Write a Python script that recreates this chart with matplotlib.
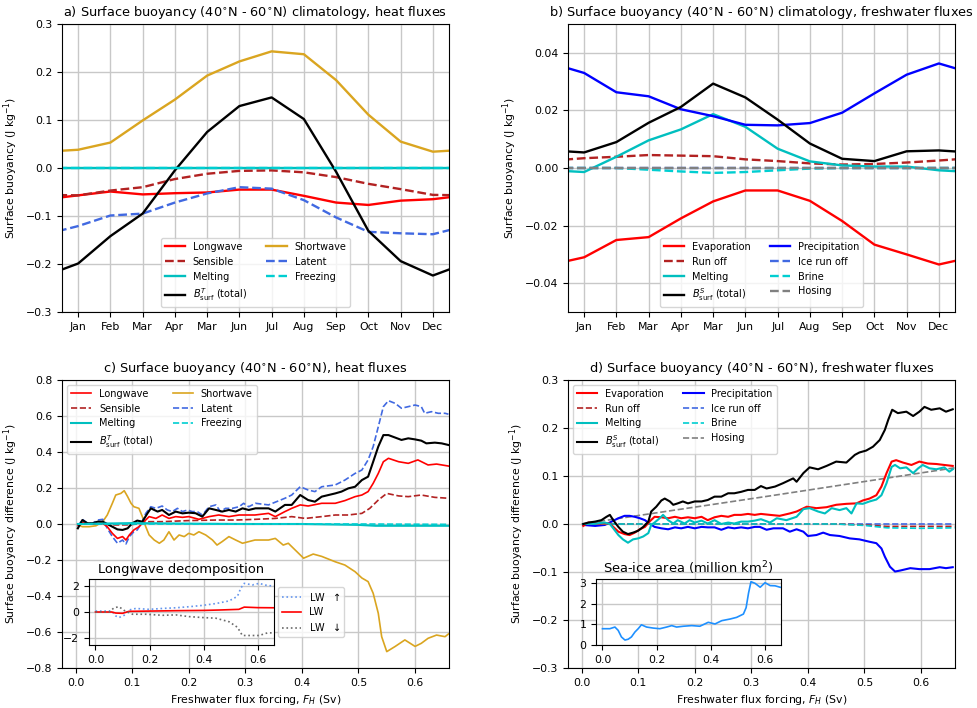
import numpy as np
import matplotlib
matplotlib.use("Agg")
import matplotlib.pyplot as plt

plt.rcParams['font.family'] = ['DejaVu Sans']
plt.rcParams['font.size'] = 7.8
plt.rcParams['axes.unicode_minus'] = True

# ---------------- Panel a/b: monthly climatology (Jan..Dec) ----------------
months = ['Jan', 'Feb', 'Mar', 'Apr', 'Mar', 'Jun', 'Jul', 'Aug', 'Sep', 'Oct', 'Nov', 'Dec']

lw_a = [-0.057, -0.049, -0.055, -0.0525, -0.051, -0.045, -0.045, -0.058, -0.072, -0.077, -0.068, -0.065]
sens_a = [-0.057, -0.047, -0.040, -0.023, -0.012, -0.006, -0.005, -0.009, -0.019, -0.033, -0.044, -0.056]
melt_a = [-0.0005] * 12
sw_a = [0.038, 0.053, 0.099, 0.1425, 0.1925, 0.222, 0.243, 0.237, 0.183, 0.111, 0.055, 0.034]
lat_a = [-0.121, -0.099, -0.095, -0.072, -0.053, -0.040, -0.043, -0.067, -0.103, -0.133, -0.136, -0.138]
frz_a = [0.0] * 12
tot_a = [-0.199, -0.142, -0.095, -0.005, 0.075, 0.129, 0.147, 0.102, -0.008, -0.131, -0.194, -0.224]

evap_b = [-0.031, -0.025, -0.024, -0.0175, -0.0116, -0.0078, -0.0078, -0.0114, -0.0184, -0.0266, -0.0300, -0.0335]
runoff_b = [0.0034, 0.0039, 0.0045, 0.0043, 0.0041, 0.0030, 0.0024, 0.0016, 0.0012, 0.0014, 0.0019, 0.0026]
melt_b = [-0.0014, 0.0039, 0.0096, 0.0134, 0.0187, 0.0143, 0.0067, 0.0023, 0.0009, 0.0005, 0.0005, -0.0008]
tot_b = [0.0054, 0.0090, 0.0157, 0.0212, 0.0293, 0.0245, 0.0168, 0.0085, 0.0032, 0.0024, 0.0058, 0.0061]
prec_b = [0.0330, 0.0263, 0.0249, 0.0204, 0.0180, 0.0150, 0.0148, 0.0156, 0.0192, 0.0259, 0.0324, 0.0363]
icerun_b = [0.0] * 12
brine_b = [0.0, 0.0, -0.0006, -0.0012, -0.0017, -0.0014, -0.0008, -0.0002, 0.0, 0.0, 0.0, 0.0]
hosing_b = [0.0] * 12

# ---------------- Panel c: heat fluxes vs forcing (Sv, value) ----------------
lw_c = np.array([(0.004,-0.005),(0.012,0.007),(0.03,0.0),(0.048,0.004),(0.056,-0.015),(0.065,-0.052),(0.074,-0.08),(0.083,-0.07),(0.089,-0.089),(0.095,-0.061),(0.103,-0.033),(0.112,-0.015),(0.121,0.013),(0.13,0.041),(0.142,0.031),(0.153,0.05),(0.165,0.031),(0.177,0.041),(0.189,0.037),(0.2,0.041),(0.218,0.026),(0.236,0.041),(0.253,0.05),(0.271,0.041),(0.289,0.05),(0.306,0.05),(0.317,0.05),(0.341,0.059),(0.353,0.041),(0.37,0.069),(0.382,0.087),(0.397,0.106),(0.411,0.1),(0.435,0.115),(0.459,0.115),(0.476,0.13),(0.494,0.152),(0.506,0.161),(0.517,0.18),(0.526,0.226),(0.535,0.281),(0.544,0.346),(0.553,0.365),(0.571,0.346),(0.588,0.337),(0.605,0.356),(0.623,0.328),(0.638,0.333),(0.659,0.322)])
sens_c = np.array([(0.004,0.0),(0.05,0.0),(0.07,-0.005),(0.09,-0.005),(0.11,0.0),(0.124,0.013),(0.153,0.013),(0.2,0.019),(0.248,0.022),(0.283,0.022),(0.318,0.026),(0.353,0.031),(0.382,0.041),(0.406,0.031),(0.435,0.041),(0.459,0.05),(0.482,0.05),(0.506,0.059),(0.52,0.087),(0.535,0.133),(0.55,0.17),(0.571,0.156),(0.588,0.152),(0.611,0.161),(0.635,0.148),(0.659,0.143)])
melt_c = np.array([(0.004,0.0),(0.1,0.005),(0.2,0.002),(0.3,0.0),(0.4,0.0),(0.5,-0.005),(0.53,-0.01),(0.659,-0.01)])
sw_c = np.array([(0.004,-0.005),(0.012,-0.015),(0.024,-0.015),(0.036,-0.01),(0.048,0.013),(0.056,0.05),(0.065,0.115),(0.071,0.161),(0.08,0.17),(0.086,0.185),(0.092,0.152),(0.098,0.115),(0.103,0.096),(0.112,0.087),(0.118,0.041),(0.124,-0.015),(0.13,-0.061),(0.139,-0.089),(0.148,-0.107),(0.156,-0.089),(0.165,-0.043),(0.174,-0.089),(0.183,-0.061),(0.192,-0.07),(0.2,-0.052),(0.209,-0.061),(0.218,-0.043),(0.23,-0.061),(0.242,-0.089),(0.25,-0.117),(0.259,-0.098),(0.271,-0.07),(0.283,-0.089),(0.295,-0.107),(0.306,-0.098),(0.317,-0.089),(0.341,-0.089),(0.353,-0.08),(0.367,-0.117),(0.376,-0.107),(0.388,-0.144),(0.403,-0.19),(0.42,-0.167),(0.435,-0.18),(0.459,-0.21),(0.476,-0.228),(0.494,-0.265),(0.506,-0.30),(0.517,-0.32),(0.526,-0.385),(0.535,-0.496),(0.541,-0.626),(0.55,-0.709),(0.565,-0.68),(0.582,-0.644),(0.6,-0.68),(0.611,-0.663),(0.623,-0.635),(0.638,-0.617),(0.653,-0.626),(0.659,-0.611)])
lat_c = np.array([(0.004,-0.015),(0.012,0.026),(0.021,0.004),(0.03,0.004),(0.039,0.022),(0.048,0.026),(0.056,-0.024),(0.065,-0.07),(0.074,-0.107),(0.083,-0.089),(0.089,-0.111),(0.095,-0.07),(0.103,-0.043),(0.109,-0.033),(0.118,0.013),(0.124,0.059),(0.133,0.096),(0.142,0.087),(0.153,0.1),(0.162,0.078),(0.171,0.069),(0.18,0.087),(0.189,0.069),(0.198,0.078),(0.206,0.069),(0.215,0.069),(0.224,0.05),(0.236,0.096),(0.248,0.106),(0.256,0.069),(0.265,0.087),(0.277,0.087),(0.289,0.096),(0.297,0.115),(0.306,0.096),(0.318,0.115),(0.341,0.106),(0.37,0.143),(0.382,0.161),(0.397,0.207),(0.411,0.189),(0.423,0.18),(0.435,0.207),(0.459,0.217),(0.476,0.244),(0.494,0.281),(0.506,0.3),(0.517,0.356),(0.526,0.43),(0.535,0.54),(0.544,0.652),(0.553,0.685),(0.565,0.67),(0.576,0.643),(0.588,0.652),(0.6,0.661),(0.611,0.652),(0.617,0.615),(0.629,0.624),(0.641,0.615),(0.653,0.615),(0.659,0.61)])
frz_c = np.array([(0.004,0.0),(0.3,0.0),(0.5,0.0),(0.659,-0.002)])
tot_c = np.array([(0.004,-0.024),(0.012,0.022),(0.021,0.004),(0.03,0.004),(0.039,0.013),(0.048,0.013),(0.056,0.0),(0.065,-0.015),(0.074,-0.03),(0.083,-0.033),(0.092,-0.024),(0.1,0.004),(0.109,0.019),(0.118,0.013),(0.127,0.059),(0.133,0.087),(0.145,0.069),(0.153,0.078),(0.165,0.05),(0.177,0.069),(0.189,0.059),(0.2,0.063),(0.212,0.06),(0.224,0.041),(0.236,0.087),(0.248,0.078),(0.259,0.069),(0.271,0.078),(0.283,0.069),(0.295,0.087),(0.306,0.078),(0.318,0.087),(0.341,0.087),(0.353,0.069),(0.37,0.106),(0.382,0.106),(0.397,0.161),(0.411,0.133),(0.423,0.124),(0.435,0.152),(0.447,0.161),(0.459,0.17),(0.47,0.18),(0.482,0.198),(0.494,0.207),(0.506,0.244),(0.517,0.263),(0.526,0.346),(0.535,0.43),(0.544,0.494),(0.553,0.494),(0.565,0.48),(0.576,0.467),(0.588,0.476),(0.6,0.47),(0.611,0.463),(0.62,0.448),(0.635,0.452),(0.647,0.448),(0.659,0.439)])

# Longwave decomposition inset
lw_up = np.array([(0.0,0.07),(0.06,0.07),(0.075,-0.3),(0.087,-0.42),(0.106,-0.25),(0.124,0.15),(0.149,0.27),(0.198,0.2),(0.248,0.27),(0.297,0.32),(0.346,0.4),(0.396,0.5),(0.445,0.64),(0.494,0.84),(0.525,1.19),(0.537,1.8),(0.55,2.17),(0.58,2.05),(0.605,2.17),(0.636,2.0),(0.66,1.98)])
lw_net = np.array([(0.0,0.0),(0.06,0.0),(0.075,-0.08),(0.1,-0.1),(0.124,0.05),(0.2,0.07),(0.3,0.1),(0.4,0.12),(0.457,0.15),(0.53,0.2),(0.55,0.37),(0.6,0.33),(0.66,0.32)])
lw_dn = np.array([(0.0,0.0),(0.05,0.0),(0.069,0.32),(0.087,0.4),(0.106,0.12),(0.137,-0.17),(0.186,-0.17),(0.248,-0.25),(0.297,-0.22),(0.346,-0.35),(0.396,-0.42),(0.445,-0.47),(0.494,-0.74),(0.525,-1.16),(0.543,-1.78),(0.568,-1.78),(0.605,-1.78),(0.636,-1.58),(0.66,-1.58)])

# ---------------- Panel d: freshwater fluxes vs forcing ----------------
evap_d = np.array([(0.003,-0.004),(0.012,0.003),(0.03,0.001),(0.05,0.001),(0.056,-0.006),(0.065,-0.016),(0.076,-0.021),(0.085,-0.023),(0.094,-0.018),(0.103,-0.011),(0.112,-0.006),(0.12,0.005),(0.129,0.015),(0.141,0.014),(0.153,0.012),(0.165,0.015),(0.176,0.012),(0.188,0.014),(0.2,0.012),(0.212,0.015),(0.223,0.008),(0.235,0.014),(0.247,0.017),(0.259,0.015),(0.27,0.019),(0.282,0.019),(0.294,0.021),(0.306,0.019),(0.317,0.021),(0.333,0.019),(0.35,0.017),(0.368,0.022),(0.38,0.026),(0.398,0.036),(0.415,0.033),(0.433,0.035),(0.45,0.04),(0.468,0.042),(0.486,0.043),(0.497,0.049),(0.509,0.053),(0.521,0.06),(0.53,0.078),(0.539,0.106),(0.548,0.13),(0.556,0.133),(0.568,0.128),(0.583,0.123),(0.597,0.13),(0.612,0.126),(0.627,0.125),(0.641,0.123),(0.656,0.121)])
runoff_d = np.array([(0.003,0.0),(0.45,0.0),(0.5,-0.002),(0.54,-0.005),(0.659,-0.005)])
melt_d = np.array([(0.003,0.0),(0.024,0.001),(0.041,0.003),(0.05,0.0),(0.056,-0.009),(0.065,-0.023),(0.073,-0.032),(0.082,-0.039),(0.091,-0.032),(0.1,-0.03),(0.109,-0.026),(0.118,-0.019),(0.123,-0.002),(0.129,0.003),(0.138,0.012),(0.144,0.019),(0.153,0.008),(0.162,0.001),(0.17,0.008),(0.182,0.001),(0.191,0.008),(0.2,0.003),(0.212,0.007),(0.223,0.001),(0.235,0.008),(0.247,0.0),(0.259,0.003),(0.27,0.001),(0.282,0.005),(0.294,0.005),(0.306,0.007),(0.317,0.01),(0.333,0.003),(0.345,0.012),(0.362,0.008),(0.38,0.015),(0.392,0.031),(0.403,0.033),(0.418,0.026),(0.43,0.022),(0.442,0.033),(0.456,0.029),(0.468,0.033),(0.477,0.022),(0.486,0.043),(0.497,0.042),(0.509,0.047),(0.521,0.051),(0.53,0.06),(0.539,0.085),(0.548,0.119),(0.554,0.123),(0.563,0.116),(0.574,0.118),(0.586,0.106),(0.595,0.116),(0.603,0.123),(0.615,0.116),(0.627,0.114),(0.641,0.118),(0.65,0.109),(0.656,0.114)])
tot_d = np.array([(0.003,0.0),(0.012,0.003),(0.024,0.005),(0.035,0.008),(0.044,0.015),(0.05,0.019),(0.056,0.008),(0.065,-0.006),(0.073,-0.016),(0.082,-0.021),(0.091,-0.018),(0.1,-0.014),(0.109,-0.006),(0.118,0.005),(0.123,0.026),(0.132,0.036),(0.141,0.049),(0.147,0.053),(0.156,0.047),(0.162,0.04),(0.17,0.043),(0.179,0.047),(0.188,0.043),(0.2,0.047),(0.212,0.047),(0.223,0.05),(0.235,0.057),(0.247,0.057),(0.259,0.064),(0.27,0.064),(0.282,0.067),(0.294,0.071),(0.306,0.071),(0.317,0.079),(0.327,0.074),(0.342,0.078),(0.356,0.085),(0.374,0.095),(0.38,0.088),(0.392,0.106),(0.403,0.118),(0.418,0.114),(0.433,0.121),(0.45,0.13),(0.468,0.128),(0.483,0.144),(0.491,0.149),(0.503,0.153),(0.515,0.161),(0.527,0.175),(0.536,0.196),(0.542,0.217),(0.549,0.238),(0.559,0.231),(0.574,0.234),(0.586,0.225),(0.597,0.234),(0.606,0.244),(0.618,0.238),(0.633,0.241),(0.644,0.234),(0.656,0.239)])
prec_d = np.array([(0.003,-0.002),(0.024,-0.004),(0.041,-0.002),(0.053,0.005),(0.065,0.012),(0.076,0.017),(0.085,0.017),(0.094,0.015),(0.103,0.012),(0.112,0.008),(0.12,0.001),(0.129,-0.006),(0.141,-0.009),(0.153,-0.011),(0.165,-0.007),(0.176,-0.009),(0.188,-0.006),(0.2,-0.009),(0.212,-0.006),(0.223,-0.007),(0.235,-0.007),(0.247,-0.012),(0.259,-0.007),(0.27,-0.009),(0.282,-0.007),(0.294,-0.009),(0.306,-0.006),(0.315,-0.006),(0.327,-0.012),(0.339,-0.009),(0.356,-0.009),(0.368,-0.016),(0.38,-0.011),(0.392,-0.016),(0.4,-0.025),(0.415,-0.023),(0.427,-0.018),(0.439,-0.023),(0.456,-0.025),(0.474,-0.03),(0.491,-0.032),(0.509,-0.037),(0.521,-0.04),(0.53,-0.051),(0.536,-0.068),(0.545,-0.089),(0.554,-0.099),(0.563,-0.097),(0.581,-0.092),(0.597,-0.094),(0.615,-0.094),(0.633,-0.09),(0.644,-0.092),(0.656,-0.09)])
icerun_d = np.array([(0.003,0.0),(0.659,0.0)])
brine_d = np.array([(0.003,0.0),(0.45,0.0),(0.5,-0.003),(0.54,-0.008),(0.6,-0.009),(0.659,-0.008)])
hosing_d = np.array([(0.0,0.0),(0.33,0.058),(0.659,0.117)])

# Sea-ice area inset
seaice = np.array([(0.0,0.79),(0.027,0.79),(0.046,0.87),(0.058,0.71),(0.07,0.39),(0.083,0.24),(0.095,0.28),(0.107,0.39),(0.12,0.63),(0.132,0.79),(0.144,0.98),(0.163,0.87),(0.188,0.82),(0.212,0.79),(0.237,0.87),(0.256,0.94),(0.274,0.87),(0.299,0.91),(0.33,0.94),(0.36,0.91),(0.391,1.1),(0.416,1.02),(0.441,1.18),(0.472,1.26),(0.496,1.34),(0.521,1.5),(0.531,1.81),(0.54,2.52),(0.549,3.07),(0.564,2.99),(0.583,2.8),(0.601,3.02),(0.62,2.88),(0.638,2.87),(0.657,2.8)])

# ---------------- Figure ----------------
W, H = 977, 708
fig = plt.figure(figsize=(W / 100, H / 100), dpi=100)

def px_axes(l, t, r, b):
    return fig.add_axes([l / W, 1 - b / H, (r - l) / W, (b - t) / H])

axa = px_axes(62, 24, 449, 312)
axb = px_axes(568, 24, 955, 312)
axc = px_axes(62, 380, 449, 668)
axd = px_axes(568, 380, 955, 668)

GRID = dict(color='#c8c8c8', linewidth=1.0)
LWM = 1.7
TFS = 9.3
LFS = 7.0
LEG = dict(ncol=2, fontsize=LFS, handlelength=2.1, columnspacing=2.0)

def wrap(v):
    # periodic extension: Dec, Jan..Dec, Jan
    return [v[-1]] + list(v) + [v[0]]

xm = np.arange(0, 14)

def month_axis(ax):
    ax.set_xlim(0.5, 12.5)
    ax.set_xticks(np.arange(1, 13))
    ax.set_xticklabels(months)
    ax.grid(True, **GRID)
    ax.set_axisbelow(True)

# Panel a
h = {}
h['lw'], = axa.plot(xm, wrap(lw_a), color='red', lw=LWM)
h['sens'], = axa.plot(xm, wrap(sens_a), color='firebrick', lw=LWM, ls='--')
h['melt'], = axa.plot(xm, wrap(melt_a), color='c', lw=LWM)
h['sw'], = axa.plot(xm, wrap(sw_a), color='goldenrod', lw=LWM)
h['lat'], = axa.plot(xm, wrap(lat_a), color='royalblue', lw=LWM, ls='--')
h['tot'], = axa.plot(xm, wrap(tot_a), color='black', lw=LWM)
h['frz'], = axa.plot(xm, wrap(frz_a), color='darkturquoise', lw=LWM, ls='--')
month_axis(axa)
axa.set_ylim(-0.3, 0.3)
axa.set_yticks(np.arange(-0.3, 0.31, 0.1))
axa.set_ylabel('Surface buoyancy (J kg$^{-1}$)')
axa.set_title('a) Surface buoyancy (40$^{\\circ}$N - 60$^{\\circ}$N) climatology, heat fluxes', fontsize=TFS)
labels_T = ['Longwave', 'Sensible', 'Melting', r'$B_{\rm surf}^{T}$ (total)', 'Shortwave', 'Latent', 'Freezing']
axa.legend([h['lw'], h['sens'], h['melt'], h['tot'], h['sw'], h['lat'], h['frz']], labels_T,
           loc='lower center', **LEG)

# Panel b
g = {}
g['evap'], = axb.plot(xm, wrap(evap_b), color='red', lw=LWM)
g['run'], = axb.plot(xm, wrap(runoff_b), color='firebrick', lw=LWM, ls='--')
g['melt'], = axb.plot(xm, wrap(melt_b), color='c', lw=LWM)
g['prec'], = axb.plot(xm, wrap(prec_b), color='blue', lw=LWM)
g['ice'], = axb.plot(xm, wrap(icerun_b), color='royalblue', lw=LWM, ls='--')
g['brine'], = axb.plot(xm, wrap(brine_b), color='darkturquoise', lw=LWM, ls='--')
g['hos'], = axb.plot(xm, wrap(hosing_b), color='grey', lw=LWM, ls='--')
g['tot'], = axb.plot(xm, wrap(tot_b), color='black', lw=LWM)
month_axis(axb)
axb.set_ylim(-0.05, 0.05)
axb.set_yticks([-0.04, -0.02, 0.0, 0.02, 0.04])
axb.set_yticklabels(['\u22120.04', '\u22120.02', '0.00', '0.02', '0.04'])
axb.set_ylabel('Surface buoyancy (J kg$^{-1}$)')
axb.set_title('b) Surface buoyancy (40$^{\\circ}$N - 60$^{\\circ}$N) climatology, freshwater fluxes', fontsize=TFS)
labels_S = ['Evaporation', 'Run off', 'Melting', r'$B_{\rm surf}^{S}$ (total)', 'Precipitation', 'Ice run off', 'Brine', 'Hosing']
axb.legend([g['evap'], g['run'], g['melt'], g['tot'], g['prec'], g['ice'], g['brine'], g['hos']], labels_S,
           loc='lower center', **LEG)

LWT = 1.2
XL = (-0.024, 0.66)

def forcing_axis(ax, ylim, step):
    ax.set_xlim(*XL)
    ax.set_xticks(np.arange(0, 0.61, 0.1))
    ax.set_ylim(*ylim)
    ax.set_yticks(np.arange(ylim[0], ylim[1] + 1e-9, step))
    ax.grid(True, **GRID)
    ax.set_axisbelow(True)
    ax.set_xlabel('Freshwater flux forcing, $F_H$ (Sv)')
    ax.set_ylabel('Surface buoyancy difference (J kg$^{-1}$)')

# Panel c
k = {}
k['sw'], = axc.plot(*sw_c.T, color='goldenrod', lw=LWT)
k['lat'], = axc.plot(*lat_c.T, color='royalblue', lw=LWT, ls='--')
k['sens'], = axc.plot(*sens_c.T, color='firebrick', lw=LWT, ls='--')
k['lw'], = axc.plot(*lw_c.T, color='red', lw=LWT)
k['tot'], = axc.plot(*tot_c.T, color='black', lw=1.5)
k['melt'], = axc.plot(*melt_c.T, color='c', lw=1.5)
k['frz'], = axc.plot(*frz_c.T, color='darkturquoise', lw=LWT, ls='--')
forcing_axis(axc, (-0.8, 0.8), 0.2)
axc.set_title('c) Surface buoyancy (40$^{\\circ}$N - 60$^{\\circ}$N), heat fluxes', fontsize=TFS)
axc.legend([k['lw'], k['sens'], k['melt'], k['tot'], k['sw'], k['lat'], k['frz']], labels_T,
           loc='upper left', **LEG)

# Panel d
m = {}
m['hos'], = axd.plot(*hosing_d.T, color='grey', lw=LWT, ls='--')
m['prec'], = axd.plot(*prec_d.T, color='blue', lw=1.5)
m['ice'], = axd.plot(*icerun_d.T, color='royalblue', lw=LWT, ls='--')
m['run'], = axd.plot(*runoff_d.T, color='firebrick', lw=LWT, ls='--')
m['brine'], = axd.plot(*brine_d.T, color='darkturquoise', lw=LWT, ls='--')
m['evap'], = axd.plot(*evap_d.T, color='red', lw=1.5)
m['melt'], = axd.plot(*melt_d.T, color='c', lw=1.5)
m['tot'], = axd.plot(*tot_d.T, color='black', lw=1.5)
forcing_axis(axd, (-0.3, 0.3), 0.1)
axd.set_title('d) Surface buoyancy (40$^{\\circ}$N - 60$^{\\circ}$N), freshwater fluxes', fontsize=TFS)
axd.legend([m['evap'], m['run'], m['melt'], m['tot'], m['prec'], m['ice'], m['brine'], m['hos']], labels_S,
           loc='upper left', **LEG)

# Inset c
axci = px_axes(89, 579, 274, 645)
l1, = axci.plot(*lw_up.T, color='cornflowerblue', lw=1.2, ls=':')
l2, = axci.plot(*lw_net.T, color='red', lw=1.2)
l3, = axci.plot(*lw_dn.T, color='dimgrey', lw=1.2, ls=':')
axci.set_xlim(*XL)
axci.set_xticks([0.0, 0.2, 0.4, 0.6])
axci.set_ylim(-2.5, 2.5)
axci.set_yticks([-2, 0, 2])
axci.grid(True, **GRID)
axci.set_title('Longwave decomposition', pad=4)
axci.legend([l1, l2, l3], ['LW  $\\uparrow$', 'LW', 'LW  $\\downarrow$'], loc='center left',
            bbox_to_anchor=(1.02, 0.5), fontsize=LFS, handlelength=2.0, borderaxespad=0)

# Inset d
axdi = px_axes(596, 579, 781, 645)
axdi.plot(*seaice.T, color='dodgerblue', lw=1.2)
axdi.set_xlim(*XL)
axdi.set_xticks([0.0, 0.2, 0.4, 0.6])
axdi.set_ylim(0, 3.2)
axdi.set_yticks([0, 1, 2, 3])
axdi.grid(True, **GRID)
axdi.set_title('Sea-ice area (million km$^2$)', pad=4)

fig.savefig('out.png', dpi=100)
